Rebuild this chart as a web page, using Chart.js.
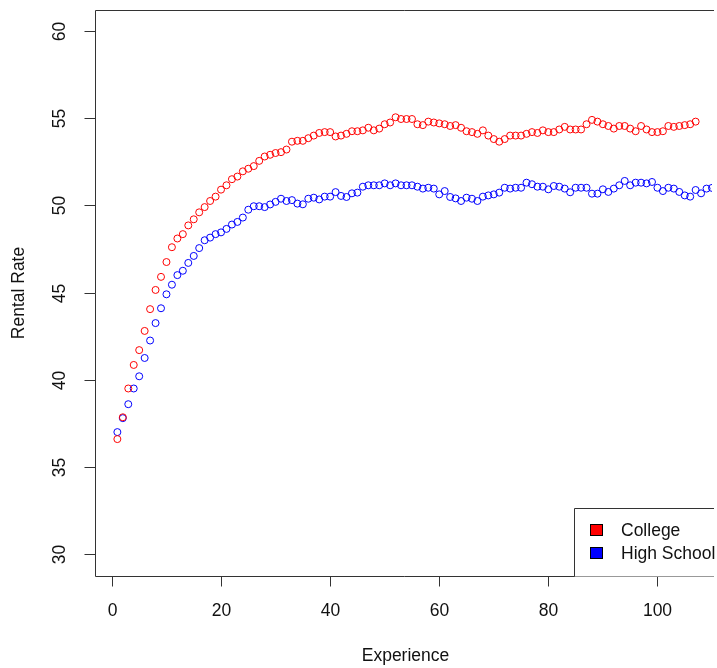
<!DOCTYPE html>
<html>
<head>
<meta charset="utf-8">
<script src="https://cdn.jsdelivr.net/npm/chart.js@4.4.1/dist/chart.umd.min.js"></script>
<style>
	html, body { margin: 0; padding: 0; background: #fff; overflow: hidden; }
	canvas { display: block; }
</style>
</head>
<body>
<canvas id="rental-chart" width="717" height="668"></canvas>
<script>
// Data
const experience = [
	1, 2, 3, 4, 5, 6, 7, 8, 9, 10, 11, 12, 13, 14, 15, 16, 17, 18, 19, 20,
	21, 22, 23, 24, 25, 26, 27, 28, 29, 30, 31, 32, 33, 34, 35, 36, 37, 38, 39, 40,
	41, 42, 43, 44, 45, 46, 47, 48, 49, 50, 51, 52, 53, 54, 55, 56, 57, 58, 59, 60,
	61, 62, 63, 64, 65, 66, 67, 68, 69, 70, 71, 72, 73, 74, 75, 76, 77, 78, 79, 80,
	81, 82, 83, 84, 85, 86, 87, 88, 89, 90, 91, 92, 93, 94, 95, 96, 97, 98, 99, 100,
	101, 102, 103, 104, 105, 106, 107, 108, 109, 110
];

const collegeRate = [
	36.6, 37.85, 39.5, 40.85, 41.7, 42.8, 44.05, 45.15, 45.9, 46.75,
	47.6, 48.1, 48.35, 48.85, 49.2, 49.6, 49.9, 50.25, 50.5, 50.9,
	51.15, 51.5, 51.65, 51.95, 52.1, 52.25, 52.55, 52.8, 52.9, 53.0,
	53.05, 53.2, 53.65, 53.7, 53.7, 53.85, 54.0, 54.15, 54.2, 54.2,
	53.95, 54.0, 54.1, 54.25, 54.25, 54.3, 54.45, 54.3, 54.4, 54.65,
	54.75, 55.05, 54.95, 54.95, 54.95, 54.65, 54.6, 54.8, 54.75, 54.7,
	54.65, 54.55, 54.6, 54.45, 54.25, 54.2, 54.1, 54.3, 54.0, 53.8,
	53.65, 53.8, 54.0, 54.0, 54.0, 54.1, 54.2, 54.15, 54.3, 54.2,
	54.2, 54.35, 54.5, 54.35, 54.35, 54.35, 54.65, 54.9, 54.8, 54.65,
	54.55, 54.4, 54.55, 54.55, 54.4, 54.25, 54.55, 54.35, 54.2, 54.2,
	54.25, 54.55, 54.5, 54.55, 54.6, 54.65, 54.8
];

const highSchoolRate = [
	37.0, 37.8, 38.6, 39.5, 40.2, 41.25, 42.25, 43.25, 44.1, 44.9,
	45.45, 46.0, 46.25, 46.7, 47.1, 47.55, 48.0, 48.15, 48.35, 48.45,
	48.65, 48.9, 49.05, 49.3, 49.75, 49.95, 49.95, 49.9, 50.05, 50.2,
	50.38, 50.25, 50.3, 50.1, 50.06, 50.38, 50.44, 50.34, 50.5, 50.5,
	50.76, 50.54, 50.48, 50.69, 50.73, 51.07, 51.15, 51.15, 51.15, 51.26,
	51.15, 51.26, 51.15, 51.15, 51.15, 51.07, 50.96, 51.01, 50.96, 50.63,
	50.82, 50.48, 50.4, 50.25, 50.44, 50.38, 50.25, 50.5, 50.57, 50.63,
	50.73, 51.01, 50.96, 51.01, 51.01, 51.3, 51.21, 51.07, 51.07, 50.92,
	51.11, 51.07, 50.96, 50.75, 51.01, 51.01, 51.01, 50.67, 50.67, 50.92,
	50.77, 50.96, 51.15, 51.4, 51.15, 51.3, 51.3, 51.26, 51.34, 51.01,
	50.82, 51.01, 50.96, 50.77, 50.57, 50.5, 50.88, 50.69, 50.96, 51.0
];

const xTicks = [0, 20, 40, 60, 80, 100];
const yTicks = [30, 35, 40, 45, 50, 55, 60];
const seriesNames = ["College", "High School"];
const seriesColors = ["#ff0000", "#0000ff"];

const font = "17.5px 'Liberation Sans', Arial, sans-serif";
const ink = "#111";
const frame = "#333";

function toPoints(values) {
	return values.map((v, i) => ({ x: experience[i], y: v }));
}

// R-style box, ticks, labels and legend drawn on top of the scales
const baseGraphics = {
	id: "baseGraphics",
	afterDraw(chart) {
		const { ctx, chartArea, scales } = chart;
		const { left, top, right, bottom } = chartArea;
		const L = Math.round(left) + 0.5;
		const T = Math.round(top) + 0.5;
		const B = Math.round(bottom) + 0.5;
		ctx.save();
		ctx.strokeStyle = frame;
		ctx.lineWidth = 1;

		// box (right side falls off the page)
		ctx.beginPath();
		ctx.moveTo(right + 2, T);
		ctx.lineTo(L, T);
		ctx.lineTo(L, B);
		ctx.lineTo(right + 2, B);
		ctx.stroke();

		ctx.fillStyle = ink;
		ctx.font = font;

		// x axis
		ctx.textAlign = "center";
		ctx.textBaseline = "middle";
		xTicks.forEach((t) => {
			const px = Math.round(scales.x.getPixelForValue(t)) + 0.5;
			ctx.beginPath();
			ctx.moveTo(px, B);
			ctx.lineTo(px, B + 10);
			ctx.stroke();
			ctx.fillText(String(t), px, B + 35);
		});

		// y axis
		yTicks.forEach((t) => {
			const py = Math.round(scales.y.getPixelForValue(t)) + 0.5;
			ctx.beginPath();
			ctx.moveTo(L - 11, py);
			ctx.lineTo(L, py);
			ctx.stroke();
			ctx.save();
			ctx.translate(L - 35, py);
			ctx.rotate(-Math.PI / 2);
			ctx.fillText(String(t), 0, 0);
			ctx.restore();
		});

		// axis titles
		ctx.fillText("Experience", (left + right) / 2 + 2, B + 80);
		ctx.save();
		ctx.translate(19, (top + bottom) / 2);
		ctx.rotate(-Math.PI / 2);
		ctx.fillText("Rental Rate", 0, 0);
		ctx.restore();

		// legend, bottom right
		const boxLeft = 574.5;
		const boxTop = 508.5;
		ctx.fillStyle = "#fff";
		ctx.fillRect(boxLeft, boxTop, right - boxLeft + 2, B - boxTop);
		ctx.beginPath();
		ctx.moveTo(right + 2, boxTop);
		ctx.lineTo(boxLeft, boxTop);
		ctx.lineTo(boxLeft, B);
		ctx.stroke();

		const rows = [530, 553];
		ctx.textAlign = "left";
		seriesNames.forEach((name, i) => {
			const cy = rows[i];
			ctx.fillStyle = seriesColors[i];
			ctx.fillRect(590, cy - 6, 12, 11);
			ctx.strokeStyle = "#000";
			ctx.strokeRect(590.5, cy - 5.5, 12, 11);
			ctx.fillStyle = ink;
			ctx.fillText(name, 621, cy + 1);
		});
		ctx.restore();
	}
};

new Chart(document.getElementById("rental-chart"), {
	type: "scatter",
	data: {
		datasets: [
			{
				label: seriesNames[0],
				data: toPoints(collegeRate),
				borderColor: seriesColors[0],
				backgroundColor: "rgba(0,0,0,0)",
				pointRadius: 3.5,
				pointBorderWidth: 1
			},
			{
				label: seriesNames[1],
				data: toPoints(highSchoolRate),
				borderColor: seriesColors[1],
				backgroundColor: "rgba(0,0,0,0)",
				pointRadius: 3.5,
				pointBorderWidth: 1
			}
		]
	},
	options: {
		responsive: false,
		animation: false,
		events: [],
		layout: { padding: { left: 95, top: 10, right: 0, bottom: 92 } },
		plugins: {
			legend: { display: false },
			tooltip: { enabled: false }
		},
		scales: {
			x: { type: "linear", min: -3.1, max: 110.0, display: false },
			y: { type: "linear", min: 28.75, max: 61.2, display: false }
		}
	},
	plugins: [baseGraphics]
});
</script>
</body>
</html>
